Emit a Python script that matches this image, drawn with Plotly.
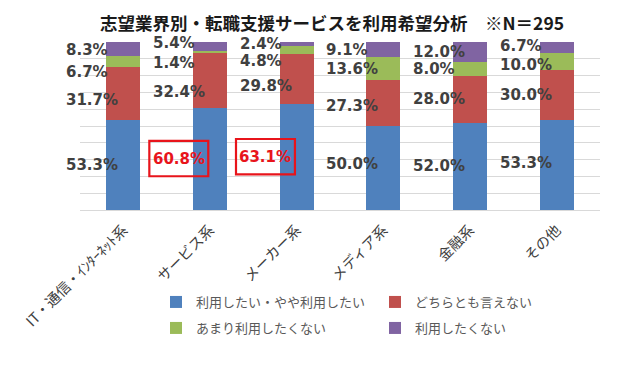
import plotly.graph_objects as go

# ---------------- data ----------------
categories = ["IT・通信・ｲﾝﾀｰﾈｯﾄ系", "サービス系", "メーカー系", "メディア系", "金融系", "その他"]
series_names = ["利用したい・やや利用したい", "どちらとも言えない", "あまり利用したくない", "利用したくない"]
want = [53.3, 60.8, 63.1, 50.0, 52.0, 53.3]
neutral = [31.7, 32.4, 29.8, 27.3, 28.0, 30.0]
not_much = [6.7, 1.4, 4.8, 13.6, 8.0, 10.0]
not_want = [8.3, 5.4, 2.4, 9.1, 12.0, 6.7]
highlighted = ["サービス系", "メーカー系"]
title_text = "志望業界別・転職支援サービスを利用希望分析　※N＝295"

# ---------------- style / layout ----------------
# the page body has an 8px default margin; size the figure so it fills the 640x366 window
PAGE_OFF = 8
W, H = 640 - PAGE_OFF, 366 - PAGE_OFF
L, R, T = 80 - PAGE_OFF, 40, 42 - PAGE_OFF
B = H - (210 - PAGE_OFF)
pw, ph = W - L - R, H - T - B
ncat = len(categories)

colors = ["#4F81BD", "#C0504D", "#9BBB59", "#8064A2"]
label_font = dict(family="DejaVu Sans", size=15, color="#404040", weight="bold")
red_font = dict(family="DejaVu Sans", size=15, color="#E8141B", weight="bold")
cjk = "Noto Sans CJK JP"
# small vertical nudges (in % units) for crowded labels: (category index, series index) -> offset
nudge = {(0, 1): -3.6, (0, 2): -6.3, (1, 1): -6.8, (1, 2): -6.4, (1, 3): 2.0,
         (2, 1): -4.2, (2, 2): -6.6, (0, 3): -0.6, (3, 0): 2.4,
         (3, 1): -1.7, (5, 2): -2.0, (5, 3): 1.0, (5, 0): 1.3}
label_dx = -0.68   # label left edge relative to category centre (category units)


def cat_to_paper(xc):
    return (xc + 0.5) / ncat


def px_x(p):  # page pixel -> paper x
    return (p - PAGE_OFF - L) / pw


def px_y(p):  # page pixel -> paper y
    return (H - B - (p - PAGE_OFF)) / ph


series = [want, neutral, not_much, not_want]

fig = go.Figure()
for i, (name, vals) in enumerate(zip(series_names, series)):
    fig.add_trace(go.Bar(
        x=categories, y=vals, name=name,
        marker=dict(color=colors[i], line=dict(width=0)),
        legend="legend" if i < 2 else "legend2",
        hoverinfo="skip",
    ))

annotations = []
shapes = []
for ci, cat in enumerate(categories):
    base = 0.0
    for si, vals in enumerate(series):
        v = vals[ci]
        mid = base + v / 2 + nudge.get((ci, si), 0.0)
        base += v
        txt = f"{v:.1f}%"
        if si == 0 and cat in highlighted:
            cx = ci - 0.36
            annotations.append(dict(
                x=cat_to_paper(cx), y=mid, xref="paper", yref="y", text=txt, showarrow=False,
                xanchor="center", yanchor="middle", font=red_font,
            ))
            shapes.append(dict(
                type="rect", xref="paper", yref="y",
                x0=cat_to_paper(cx - 0.34), x1=cat_to_paper(cx + 0.34),
                y0=mid - 10.3, y1=mid + 10.7,
                line=dict(color="#E8141B", width=2.2), fillcolor="rgba(0,0,0,0)",
            ))
        else:
            annotations.append(dict(
                x=cat_to_paper(ci + label_dx), y=mid, xref="paper", yref="y",
                text=txt, showarrow=False,
                xanchor="left", yanchor="middle", font=label_font,
            ))

annotations.append(dict(
    x=px_x(332), y=1 + T / ph, xref="paper", yref="paper", text=title_text, showarrow=False,
    xanchor="center", yanchor="top",
    font=dict(family=cjk, size=17.5, color="#1a1a1a", weight="bold"),
))

legend_common = dict(
    orientation="h", entrywidth=174, entrywidthmode="pixels",
    font=dict(family=cjk, size=13, color="#595959"),
    bgcolor="rgba(0,0,0,0)", xanchor="left", yanchor="middle",
    itemclick=False, itemdoubleclick=False, traceorder="normal",
)

fig.update_layout(
    width=W, height=H,
    margin=dict(l=L, r=R, t=T, b=B, autoexpand=False),
    paper_bgcolor="white", plot_bgcolor="white",
    barmode="stack", bargap=0.61,
    showlegend=True,
    legend=dict(**legend_common, x=px_x(156), y=px_y(302)),
    legend2=dict(**legend_common, x=px_x(156), y=px_y(328)),
    xaxis=dict(
        type="category", range=[-0.5, ncat - 0.5], tickangle=-45,
        tickfont=dict(family=cjk, size=14.5, color="#404040"),
        showline=True, linecolor="#D9D9D9", linewidth=1,
        ticks="", showgrid=False, ticklabelstandoff=5, automargin=False,
    ),
    yaxis=dict(
        range=[0, 100], dtick=10, showticklabels=False,
        showgrid=True, gridcolor="#D9D9D9", gridwidth=1,
        zeroline=False, ticks="", automargin=False,
    ),
    annotations=annotations, shapes=shapes,
)

fig.write_html("out.html")
